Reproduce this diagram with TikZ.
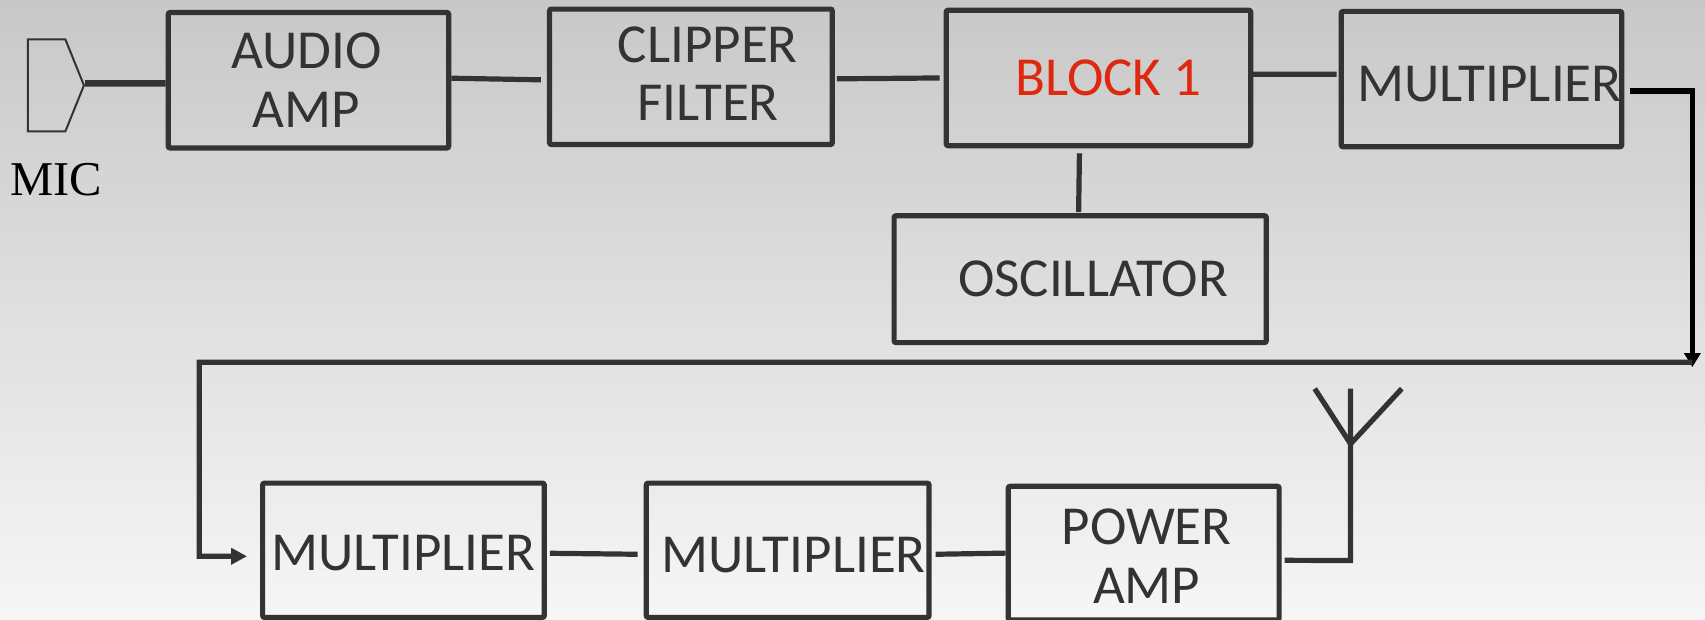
\documentclass[tikz,border=0pt]{standalone}
\usepackage{fontspec}
\setmainfont{Carlito}
\newfontfamily\micfont{Liberation Serif}
\usetikzlibrary{shapes.symbols, arrows.meta, positioning}
\definecolor{darkline}{RGB}{51,51,51}
\definecolor{redtext}{RGB}{224,40,14}
\definecolor{bgtop}{RGB}{200,200,200}
\definecolor{bgbottom}{RGB}{246,246,246}
\newcommand{\nudge}[3]{\hspace*{#1}\raisebox{#2}[\height][\depth]{#3}}
\tikzset{
  block/.style={
    rectangle, rounded corners=1pt, draw=darkline, line width=2.6pt,
    text=darkline, align=center, inner sep=0pt,
    minimum width=4.93cm, minimum height=2.38cm,
    font=\fontsize{27.5}{29.4}\selectfont
  },
  wire/.style={draw=darkline, line width=2.6pt},
  arr/.style={wire, -{Triangle[length=8pt, width=8pt]}},
  blackarr/.style={draw=black, line width=2.7pt, -{Triangle[length=7pt, width=8pt]}},
  micbody/.style={
    signal, signal to=east, signal pointer angle=136, draw=darkline,
    line width=1pt, inner sep=0pt, minimum width=28pt, minimum height=46pt
  }
}
\begin{document}
\begin{tikzpicture}

  \fill[top color=bgtop, bottom color=bgbottom] (0,0) rectangle (852.5pt,-310pt);
  \useasboundingbox (0,0) rectangle (852.5pt,-310pt);

  %% ── top row ──────────────────────────────
  \node[micbody] (mic) at (0.82,-1.5) {};
  \node[below=0.54cm of mic, xshift=0.17cm, font=\micfont\fontsize{24.3}{26}\selectfont, inner sep=0pt] (miclbl) {MIC};
  \node[block] (audio) at (5.42,-1.41) {\nudge{-2pt}{0pt}{AUDIO}\\\nudge{-2pt}{0pt}{AMP}};
  \node[block, right=1.68cm of audio, yshift=0.06cm, minimum width=4.97cm] (clipper)
        {\nudge{17pt}{1.6pt}{CLIPPER}\\\nudge{17pt}{1.6pt}{FILTER}};
  \node[block, right=1.91cm of clipper, yshift=-0.02cm, minimum width=5.35cm, text=redtext] (block1)
        {\nudge{10pt}{0pt}{BLOCK 1}};
  \node[block, right=1.50cm of block1, yshift=-0.02cm] (multa)
        {\nudge{8pt}{-2.7pt}{MULTIPLIER}};
  \node[block, below=1.14cm of block1, xshift=-0.32cm, minimum width=6.54cm, minimum height=2.23cm] (osc)
        {\nudge{13pt}{0pt}{OSCILLATOR}};

  \draw[wire, line width=3.2pt] ([yshift=1pt]mic.east) -- ([yshift=-1.6pt]audio.west);
  \draw[wire] ([yshift=1pt]audio.east) -- ([xshift=-3pt,yshift=-1.5pt]clipper.west);
  \draw[wire] ([xshift=1pt,yshift=-1pt]clipper.east) -- ([xshift=-2pt]block1.west);
  \draw[wire] ([xshift=-1pt,yshift=1.9pt]block1.east) -- ([xshift=-1pt,yshift=2.4pt]multa.west);
  \draw[wire] ([xshift=-9.5pt,yshift=-2.5pt]block1.south) -- ([xshift=-0.8pt,yshift=0.5pt]osc.north);
  \draw[blackarr] ([xshift=3pt,yshift=-6pt]multa.east) -| ([xshift=34pt,yshift=-144pt]multa.east);

  %% ── bottom row ───────────────────────────
  \node[block, minimum width=4.95cm, minimum height=2.36cm] (multb) at (7.09,-9.67)
        {\nudge{0pt}{-1.6pt}{MULTIPLIER}};
  \node[block, right=1.70cm of multb, minimum width=4.97cm, minimum height=2.36cm] (multc)
        {\nudge{6pt}{-2.2pt}{MULTIPLIER}};
  \node[block, right=1.30cm of multc, yshift=-0.05cm, minimum width=4.76cm, minimum height=2.35cm] (power)
        {\nudge{3pt}{-1.6pt}{POWER}\\\nudge{3pt}{-1.6pt}{AMP}};

  \coordinate (turnr) at ([xshift=34pt,yshift=-141.6pt]multa.east);
  \coordinate (turnl) at ([xshift=-30.4pt,yshift=94pt]multb.west);
  \draw[arr] (turnr) -- (turnl) |- ([xshift=-6.5pt,yshift=-3pt]multb.west);
  \draw[wire] ([xshift=1.5pt,yshift=-1.5pt]multb.east) -- ([xshift=-3pt,yshift=-2pt]multc.west);
  \draw[wire] ([xshift=2pt,yshift=-2pt]multc.east) -- (power.west);

  %% ── antenna ──────────────────────────────
  \coordinate[xshift=1.21cm, yshift=-0.13cm] (antbase) at (power.east);
  \coordinate (antfork) at ([yshift=2.05cm]antbase);
  \coordinate (anttop) at ([yshift=3.02cm]antbase);
  \draw[wire, line join=miter] ([xshift=1.5pt,yshift=-3.6pt]power.east) -- (antbase) -- (anttop);
  \draw[wire] ([xshift=-0.63cm,yshift=3.02cm]antbase) -- (antfork) -- ([xshift=0.9cm,yshift=3.02cm]antbase);

\end{tikzpicture}
\end{document}
